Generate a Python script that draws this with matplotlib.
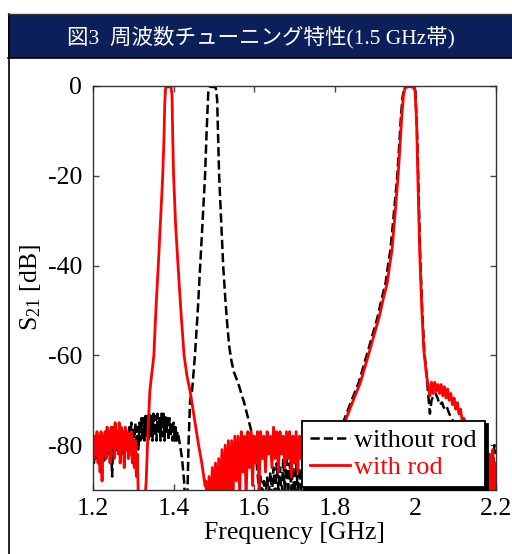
import numpy as np
import matplotlib
matplotlib.use("Agg")
import matplotlib.pyplot as plt
from matplotlib.patches import Rectangle
from matplotlib.lines import Line2D

# -----------------------
# Data, frequency in GHz, S21 in dB
# -----------------------
TITLE = "図3  周波数チューニング特性(1.5 GHz帯)"
XTICKS = [1.2, 1.4, 1.6, 1.8, 2.0, 2.2]
XTICK_LABELS = ["1.2", "1.4", "1.6", "1.8", "2", "2.2"]
YTICKS = [0, -20, -40, -60, -80]

# --- with rod (red) ---
red_lo_start, red_lo_step = 1.200, 0.0025
red_lo_db = [-79, -83, -78, -82, -77, -84, -78, -86, -77, -88,
             -78, -82, -77, -83, -76, -81, -77, -84, -76, -80,
             -76, -83, -75, -80, -77, -82, -75, -84, -76, -81,
             -77, -85, -76, -81, -77, -83, -78, -82, -77, -84,
             -79, -85, -79, -87, -82, -92, -95]

red_pk1_f = [1.320, 1.326, 1.332, 1.336, 1.341, 1.346, 1.351, 1.356, 1.362, 1.367,
             1.373, 1.376, 1.378, 1.380, 1.383, 1.390, 1.394, 1.396, 1.398, 1.400,
             1.405, 1.411, 1.418, 1.426, 1.433, 1.441, 1.448, 1.455, 1.462, 1.470, 1.478]
red_pk1_db = [-93, -96, -88, -78, -68, -64, -60, -50, -40, -31,
              -20, -12, -4, -0.5, -0.2, -0.2, -0.4, -2, -12, -20,
              -31, -40, -50, -60, -64.5, -68, -72, -76, -80, -84, -89]

red_mid_start, red_mid_step = 1.480, 0.004
red_mid_db = [-88, -94, -87, -95, -85, -93, -84, -94, -83, -92,
              -81, -93, -80, -91, -79, -92, -79, -90, -78, -88,
              -78, -91, -77, -86, -78, -92, -77, -85, -77, -89,
              -78, -84, -77, -90, -77, -83, -78, -86, -77, -82,
              -78, -85, -76, -83, -77, -86, -77, -82, -78, -85,
              -77, -83, -77, -87, -78, -84, -77, -86, -78, -83, -78]

red_pk2_f = [1.74, 1.76, 1.78, 1.80, 1.82, 1.833, 1.848, 1.863, 1.875, 1.887,
             1.899, 1.910, 1.920, 1.930, 1.936, 1.942, 1.950, 1.957, 1.962, 1.966,
             1.970, 1.974, 1.985, 1.995, 1.999, 2.003, 2.006, 2.011, 2.016, 2.021, 2.027]
red_pk2_db = [-80, -81, -80, -79, -76, -73, -69.5, -66.2, -62.5, -58.8,
              -55, -51.5, -47.5, -43.9, -40, -36.5, -28, -20, -13, -7,
              -2.5, -0.4, -0.1, -0.3, -1, -8, -20, -38, -50, -59, -64]

red_sh_start, red_sh_step = 2.032, 0.004
red_sh_db = [-67, -69, -66, -68.5, -66, -68, -66.5, -68.5, -66.5, -69,
             -67, -69.5, -67.5, -70, -68.5, -71, -69.5, -72, -70.5, -73,
             -72, -74.5, -74]

red_tail_f = [2.130, 2.145, 2.160]
red_tail_db = [-76, -79, -81]

red_end_start, red_end_step = 2.164, 0.004
red_end_db = [-83, -80, -88, -81, -94, -82, -95, -81, -90, -84]

# --- without rod (black dashed) ---
blk_lo_start, blk_lo_step = 1.200, 0.0025
blk_lo_db = [-81, -84, -80, -83, -79, -82, -80, -83, -79, -82,
             -80, -84, -79, -83, -80, -82, -79, -84, -80, -87,
             -79, -82, -78, -81, -79, -82, -78, -81, -78, -82,
             -78, -81, -79, -81, -78, -80, -76, -80, -75, -79,
             -76, -80, -75, -79, -76, -81, -75, -79, -74, -79,
             -74, -79, -73.5, -78, -73.5, -79, -73, -78, -73.5, -79,
             -73, -78, -73.5, -79, -73, -77, -73.5, -79, -73, -78,
             -73, -79, -73.5, -77, -74, -79, -74, -78, -75, -79,
             -75, -79, -76, -79, -77]

blk_pk1_f = [1.416, 1.421, 1.426, 1.428, 1.431, 1.434, 1.437, 1.441, 1.446, 1.453,
             1.460, 1.466, 1.472, 1.478, 1.482, 1.486, 1.490, 1.500, 1.505, 1.508,
             1.513, 1.518, 1.523, 1.528, 1.533, 1.538, 1.544, 1.550, 1.556, 1.562,
             1.568, 1.575, 1.582, 1.594]
blk_pk1_db = [-80, -83, -88, -92, -95, -92, -80, -70, -67.7, -60,
              -50, -40, -30, -20, -10, -1.5, -0.2, -0.2, -0.5, -3,
              -20, -30, -40, -47, -53, -58, -61.5, -63.8, -65.2, -66.7,
              -68.5, -70.5, -73, -77.3]

blk_mid_start, blk_mid_step = 1.600, 0.004
blk_mid_db = [-79, -82, -86, -90, -87, -92, -88, -93, -87, -92,
              -86, -91, -85, -92, -84, -90, -85, -92, -83, -90,
              -82, -91, -84, -90, -85, -92, -84, -90, -85, -91, -86]

blk_pk2_f = [1.74, 1.76, 1.78, 1.80, 1.816, 1.829, 1.844, 1.859, 1.871, 1.883,
             1.895, 1.906, 1.916, 1.926, 1.932, 1.938, 1.947, 1.955, 1.960, 1.964,
             1.968, 1.973, 1.985, 1.996, 2.000, 2.004, 2.007, 2.012, 2.017, 2.022,
             2.028, 2.031, 2.036, 2.040, 2.045, 2.050, 2.055, 2.060, 2.066, 2.072,
             2.078, 2.084, 2.090, 2.100, 2.120, 2.140, 2.160]
blk_pk2_db = [-87, -86, -84, -80, -76, -73, -69.5, -66.2, -62.5, -58.8,
              -55, -51.5, -47.5, -43.9, -40, -36.5, -28, -20, -13, -7,
              -2.5, -0.3, -0.1, -0.2, -1, -10, -20, -38, -50, -59,
              -64.5, -68, -73, -70, -69, -68.5, -69.5, -71, -70.5, -72,
              -71.5, -73, -74, -76, -79, -82, -84]

blk_end_start, blk_end_step = 2.176, 0.004
blk_end_db = [-86, -83, -90, -82, -88, -80, -82]


def grid(start, step, vals):
    # sampling grid for a block of evenly spaced sweep points
    return start + step * np.arange(len(vals))


def main():
    plt.rcParams["font.family"] = ["Liberation Serif", "Noto Sans CJK JP"]
    plt.rcParams["mathtext.fontset"] = "custom"
    plt.rcParams["mathtext.rm"] = "Liberation Serif"
    plt.rcParams["mathtext.it"] = "Liberation Serif:italic"
    plt.rcParams["axes.unicode_minus"] = False

    red_f = np.concatenate([grid(red_lo_start, red_lo_step, red_lo_db), red_pk1_f,
                            grid(red_mid_start, red_mid_step, red_mid_db), red_pk2_f,
                            grid(red_sh_start, red_sh_step, red_sh_db), red_tail_f,
                            grid(red_end_start, red_end_step, red_end_db)])
    red_db = np.concatenate([red_lo_db, red_pk1_db, red_mid_db, red_pk2_db,
                             red_sh_db, red_tail_db, red_end_db])

    blk_f = np.concatenate([grid(blk_lo_start, blk_lo_step, blk_lo_db), blk_pk1_f,
                            grid(blk_mid_start, blk_mid_step, blk_mid_db), blk_pk2_f,
                            grid(blk_end_start, blk_end_step, blk_end_db)])
    blk_db = np.concatenate([blk_lo_db, blk_pk1_db, blk_mid_db, blk_pk2_db, blk_end_db])

    W, H = 512, 554
    fig = plt.figure(figsize=(W / 100, H / 100), dpi=100)

    # title band + panel frame
    fig.patches.append(Rectangle((8 / W, 1 - 58 / H), 1 - 8 / W, 44 / H,
                                 transform=fig.transFigure, facecolor="#0b1f5b",
                                 edgecolor="none", zorder=0))
    fig.add_artist(Line2D([8.5 / W, 8.5 / W], [0, 1 - 14 / H], color="black", lw=1.2))
    fig.add_artist(Line2D([8 / W, 1], [1 - 58.5 / H, 1 - 58.5 / H], color="black", lw=1.2))
    fig.add_artist(Line2D([8 / W, 1], [1 - 14 / H, 1 - 14 / H], color="#333333", lw=1.0))
    fig.text(261 / W, 1 - 37 / H, TITLE, color="white", fontsize=15.5,
             ha="center", va="center")

    ax = fig.add_axes([93 / W, 1 - 490 / H, 403 / W, 404 / H])
    ax.plot(blk_f, blk_db, color="black", lw=1.8, ls="--", label="without rod")
    ax.plot(red_f, red_db, color="#ff0000", lw=2.0, label="with rod")

    ax.set_xlim(1.2, 2.2)
    ax.set_ylim(-90, 0)
    ax.set_xticks(XTICKS)
    ax.set_xticklabels(XTICK_LABELS)
    ax.set_yticks(YTICKS)
    ax.tick_params(direction="in", top=True, right=True, length=4.5, width=1,
                   color="#444444", labelsize=18.5)
    ax.tick_params(axis="x", pad=6)
    ax.tick_params(axis="y", pad=8)
    for s in ax.spines.values():
        s.set_color("#333333")
        s.set_linewidth(1.0)

    ax.set_xlabel("Frequency [GHz]", fontsize=18.5, labelpad=1)
    ax.set_ylabel(r"S$_{\mathrm{21}}$ [dB]", fontsize=18.5, labelpad=3)

    leg = ax.legend(loc="lower right", bbox_to_anchor=(0.9727, 0.0074),
                    borderaxespad=0, fontsize=19, frameon=True, fancybox=False,
                    edgecolor="black", framealpha=1,
                    shadow={"color": "black", "alpha": 1},
                    handlelength=1.55, handletextpad=0.15, borderpad=0.3,
                    labelspacing=0.12, labelcolor="linecolor")
    leg.get_frame().set_linewidth(1.3)

    fig.savefig("out.png", dpi=100)
    plt.close(fig)


if __name__ == "__main__":
    main()
